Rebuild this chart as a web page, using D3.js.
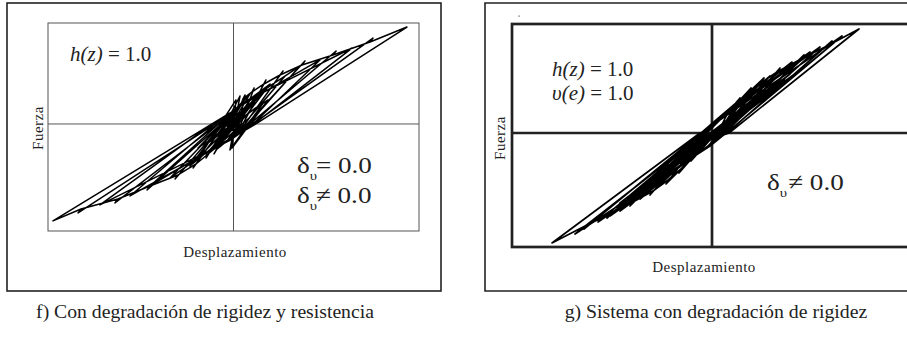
<!DOCTYPE html>
<html>
<head>
<meta charset="utf-8">
<script src="https://cdn.jsdelivr.net/npm/d3@7"></script>
<style>
  body { margin: 0; background: #fff; }
  text { font-family: "Liberation Serif", "Times New Roman", serif; fill: #222; }
</style>
</head>
<body>
<div id="chart"></div>
<script>
// panel f) : rigidez y resistencia (unidades normalizadas)
const picosPosF = [[0.935,0.960],[0.752,0.851],[0.553,0.723],[0.385,0.624],[0.267,0.525],[0.175,0.436],[0.111,0.356],[0.062,0.287]];
const picosNegF = [[-0.973,-0.960],[-0.838,-0.881],[-0.639,-0.782],[-0.466,-0.653],[-0.315,-0.545],[-0.218,-0.436],[-0.148,-0.337],[-0.094,-0.257]];
const envSupF = [[0.051,0.248],[0.100,0.317],[0.164,0.396],[0.251,0.485],[0.369,0.584],[0.536,0.683],[0.736,0.812]];
const envInfF = [[-0.084,-0.218],[-0.137,-0.297],[-0.202,-0.396],[-0.299,-0.505],[-0.450,-0.614],[-0.623,-0.743],[-0.822,-0.842]];
const descargaF = [0.121,0.105,0.089,0.073,0.062,0.051,0.040,0.030];
const recargaF = [-0.116,-0.100,-0.084,-0.067,-0.057,-0.046,-0.035,-0.024];
const pinzaF = [[0.035,0.168],[-0.035,-0.168]];
const centroF = [[-0.062,-0.119],[0.067,0.139],[-0.084,-0.178],[0.089,0.198],[-0.105,-0.218],[0.078,0.178],
  [-0.073,-0.158],[0.116,0.257],[-0.116,-0.238],[0.057,0.119],[-0.051,-0.099],[0.132,0.287],[-0.127,-0.277],[0.046,0.099],
  [0.089,0.238],[-0.084,-0.218],[0.132,0.277],[-0.127,-0.257],[0.067,0.178],[-0.062,-0.178],[0.154,0.317],[-0.148,-0.297],
  [0.100,0.198],[-0.094,-0.198],[0.057,0.139],[-0.051,-0.119],[0.121,0.238],[-0.116,-0.257],
  [0.035,0.277],[-0.019,-0.257],[0.164,0.218],[-0.159,-0.218],
  [0.175,0.337],[-0.181,-0.317],[0.013,0.238],[-0.008,-0.238],[0.186,0.238],[-0.191,-0.238],[0.089,0.297],[-0.105,-0.297]];
const mediosF = [[0.035,0.178],[0.358,0.574],[0.100,0.040],[-0.030,-0.158],[-0.450,-0.614],[-0.105,-0.040],
  [0.035,0.178],[0.466,0.634],[0.116,0.020],[-0.040,-0.178],[-0.558,-0.713],[-0.111,-0.020],
  [0.046,0.198],[0.278,0.475],[0.084,0.059],[-0.062,-0.178],[-0.342,-0.535],[-0.078,-0.030],
  [0.057,0.218],[0.639,0.752],[0.132,0.030],[-0.024,-0.168],[-0.720,-0.802],[-0.116,0.000],
  [0.024,0.158],[0.197,0.396],[0.067,0.079],[-0.051,-0.139],[-0.235,-0.416],[-0.073,-0.040]];

// panel g) : solo rigidez
const picosPosG = [[0.735,0.954],[0.600,0.844],[0.460,0.716],[0.340,0.596],[0.260,0.505],[0.195,0.413],[0.140,0.321],[0.090,0.229]];
const picosNegG = [[-0.800,-1.009],[-0.640,-0.881],[-0.525,-0.780],[-0.410,-0.670],[-0.310,-0.569],[-0.230,-0.468],[-0.165,-0.367],[-0.105,-0.257]];
const envSupG = [[0.080,0.193],[0.130,0.284],[0.185,0.376],[0.250,0.468],[0.325,0.560],[0.445,0.679],[0.585,0.807]];
const envInfG = [[-0.095,-0.220],[-0.155,-0.330],[-0.220,-0.431],[-0.295,-0.532],[-0.395,-0.633],[-0.510,-0.743],[-0.625,-0.844]];
const descargaG = [0.085,0.075,0.065,0.055,0.045,0.040,0.035,0.030];
const recargaG = [-0.060,-0.055,-0.050,-0.045,-0.040,-0.035,-0.030,-0.025];
const pinzaG = [[0.010,0.064],[-0.010,-0.064]];
const centroG = [[0.315,0.440],[-0.320,-0.459],[0.290,0.376],[-0.285,-0.450],[0.265,0.394],[-0.360,-0.523],
  [0.350,0.486],[-0.260,-0.394],[0.230,0.339],[-0.335,-0.505],[0.390,0.541],[-0.235,-0.339],[0.200,0.303],
  [-0.385,-0.560],[0.330,0.431],[-0.210,-0.321],[0.250,0.358],[-0.310,-0.440],[0.165,0.248],[-0.160,-0.248],
  [0.365,0.486],[-0.350,-0.486],[0.240,0.330],[-0.420,-0.587],[0.440,0.578],[-0.300,-0.431],[0.180,0.266],
  [-0.460,-0.642],[0.300,0.431],[-0.220,-0.321],[0.130,0.193],[-0.260,-0.413],[0.415,0.532],[-0.375,-0.541],
  [0.215,0.321],[-0.185,-0.294]];
const mediosG = [[0.000,0.083],[0.540,0.789],[0.080,0.037],[0.000,-0.101],[-0.570,-0.817],[-0.060,-0.028],
  [0.020,0.101],[0.400,0.651],[0.065,0.046],[-0.020,-0.119],[-0.460,-0.716],[-0.070,-0.046],
  [0.010,0.083],[0.650,0.890],[0.090,0.028],[-0.010,-0.119],[-0.685,-0.927],[-0.050,-0.018],
  [0.030,0.119],[0.290,0.523],[0.060,0.064],[-0.030,-0.101],[-0.360,-0.606],[-0.080,-0.064],
  [0.040,0.138],[0.490,0.743],[0.075,0.055],[-0.030,-0.138],[-0.510,-0.761],[-0.060,-0.009],
  [0.015,0.110],[0.220,0.431],[0.050,0.064],[-0.040,-0.101],[-0.280,-0.505],[-0.090,-0.046]];

const etiquetas = { x: "Desplazamiento", y: "Fuerza" };
const titulos = ["f) Con degradación de rigidez y resistencia", "g) Sistema con degradación de rigidez"];

// join the read turning points into one path, smallest cycle first
function armarCurva(inicio, pinza, envSup, envInf, pPos, pNeg, desc, rec) {
  const pts = inicio.slice();
  pts.push(pinza[0]);
  for (let k = pPos.length - 1; k >= 0; k--) {
    envSup.forEach(p => { if (p[0] < pPos[k][0] - 0.01) pts.push(p); });
    pts.push(pPos[k], [desc[k], 0], pinza[1]);
    envInf.forEach(p => { if (p[0] > pNeg[k][0] + 0.01) pts.push(p); });
    pts.push(pNeg[k], [rec[k], 0], pinza[0]);
  }
  return pts;
}

const svg = d3.select("#chart").append("svg")
  .attr("width", 907).attr("height", 337);

// ---- panel f
const xF = d3.scaleLinear().domain([-1, 1]).range([48, 419]);
const yF = d3.scaleLinear().domain([-1.06, 1]).range([231, 23]);

svg.append("rect").attr("x", 7).attr("y", 3).attr("width", 434).attr("height", 288)
  .attr("fill", "none").attr("stroke", "#222").attr("stroke-width", 1.6);

const gF = svg.append("g");
gF.append("rect").attr("x", xF(-1)).attr("y", yF(1))
  .attr("width", xF(1) - xF(-1)).attr("height", yF(-1.06) - yF(1))
  .attr("fill", "none").attr("stroke", "#555").attr("stroke-width", 1);
gF.append("line").attr("x1", xF(0)).attr("x2", xF(0)).attr("y1", yF(1)).attr("y2", yF(-1.06))
  .attr("stroke", "#555").attr("stroke-width", 1);
gF.append("line").attr("x1", xF(-1)).attr("x2", xF(1)).attr("y1", yF(0)).attr("y2", yF(0))
  .attr("stroke", "#555").attr("stroke-width", 1);

const lineaF = d3.line().x(d => xF(d[0])).y(d => yF(d[1]));
gF.append("path")
  .attr("d", lineaF(armarCurva(centroF.concat(mediosF), pinzaF, envSupF, envInfF, picosPosF, picosNegF, descargaF, recargaF)))
  .attr("fill", "none").attr("stroke", "#000").attr("stroke-width", 1.5).attr("stroke-linejoin", "round");

gF.append("text").attr("x", 235).attr("y", 257).attr("text-anchor", "middle")
  .style("font-size", "15px").style("letter-spacing", "0.5px").text(etiquetas.x);
gF.append("text").attr("transform", "translate(43,128) rotate(-90)").attr("text-anchor", "middle")
  .style("font-size", "15px").style("letter-spacing", "0.5px").text(etiquetas.y);

const hF = gF.append("text").attr("x", 70).attr("y", 61).style("font-size", "21px");
hF.append("tspan").style("font-style", "italic").text("h(z)");
hF.append("tspan").text(" = 1.0");

function delta(g, x, y, resto, dx) {
  const t = g.append("text").attr("transform", `translate(${x},${y}) scale(1.13,1)`).style("font-size", "24px");
  t.append("tspan").text("δ");
  t.append("tspan").attr("dy", 7).style("font-size", "13px").text("υ");
  t.append("tspan").attr("dy", -7).attr("dx", dx).text(resto);
}
delta(gF, 297, 173, "= 0.0", -1);
delta(gF, 297, 203, "≠ 0.0", -1);

svg.append("text").attr("x", 205).attr("y", 318).attr("text-anchor", "middle")
  .style("font-size", "19.7px").text(titulos[0]);

// ---- panel g
const xG = d3.scaleLinear().domain([-1, 1]).range([512, 912]);
const yG = d3.scaleLinear().domain([-1.046, 1]).range([247, 24]);

svg.append("path").attr("d", "M920,3 H485 V291 H920")
  .attr("fill", "none").attr("stroke", "#222").attr("stroke-width", 1.6);
svg.append("rect").attr("x", 518.5).attr("y", 15.5).attr("width", 1.2).attr("height", 1.2).attr("fill", "#555");

const gG = svg.append("g");
gG.append("rect").attr("x", xG(-1)).attr("y", yG(1))
  .attr("width", xG(1) - xG(-1) + 10).attr("height", yG(-1.046) - yG(1))
  .attr("fill", "none").attr("stroke", "#222").attr("stroke-width", 2.7);
gG.append("line").attr("x1", xG(0)).attr("x2", xG(0)).attr("y1", yG(1)).attr("y2", yG(-1.046))
  .attr("stroke", "#222").attr("stroke-width", 2.7);
gG.append("line").attr("x1", xG(-1)).attr("x2", xG(1) + 10).attr("y1", yG(0)).attr("y2", yG(0))
  .attr("stroke", "#222").attr("stroke-width", 2.7);

const lineaG = d3.line().x(d => xG(d[0])).y(d => yG(d[1]));
gG.append("path")
  .attr("d", lineaG(armarCurva(centroG.concat(mediosG), pinzaG, envSupG, envInfG, picosPosG, picosNegG, descargaG, recargaG)))
  .attr("fill", "none").attr("stroke", "#000").attr("stroke-width", 1.7).attr("stroke-linejoin", "round");

gG.append("text").attr("x", 704).attr("y", 272).attr("text-anchor", "middle")
  .style("font-size", "15px").style("letter-spacing", "0.5px").text(etiquetas.x);
gG.append("text").attr("transform", "translate(505,138) rotate(-90)").attr("text-anchor", "middle")
  .style("font-size", "15px").style("letter-spacing", "0.5px").text(etiquetas.y);

const hG = gG.append("text").attr("x", 552).attr("y", 76).style("font-size", "21px");
hG.append("tspan").style("font-style", "italic").text("h(z)");
hG.append("tspan").text(" = 1.0");
const vG = gG.append("text").attr("x", 552).attr("y", 100).style("font-size", "21px");
vG.append("tspan").style("font-style", "italic").text("υ(e)");
vG.append("tspan").text(" = 1.0");
delta(gG, 767, 190, "≠ 0.0", 1);

svg.append("text").attr("x", 716).attr("y", 318).attr("text-anchor", "middle")
  .style("font-size", "19.8px").text(titulos[1]);
</script>
</body>
</html>
